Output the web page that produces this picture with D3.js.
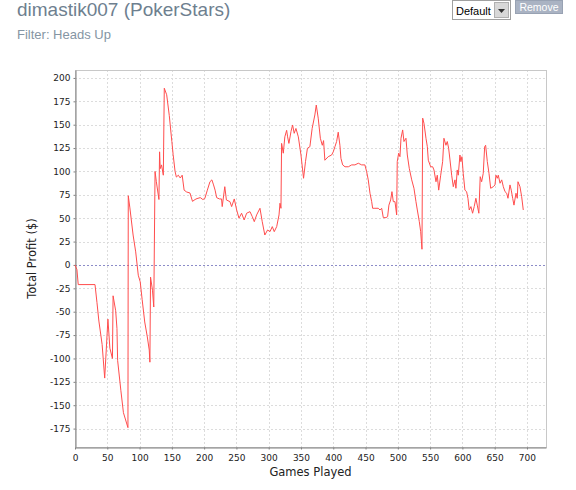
<!DOCTYPE html>
<html>
<head>
<meta charset="utf-8">
<script src="https://cdn.jsdelivr.net/npm/d3@7"></script>
<style>
  body { margin: 0; background: #fff; }
  svg { display: block; }
</style>
</head>
<body>
<svg id="chart"></svg>
<script>
// games played / cumulative profit
var games = [0, 3, 5, 31, 34, 37, 42, 46, 51, 54, 58, 59, 63, 65, 66, 71, 75, 82, 82.5, 85,
  90, 94, 98, 101, 104, 108, 112, 115, 116, 117, 120, 122, 124, 126, 130, 131, 132, 134, 136.8, 138.3,
  142, 146, 150, 152, 155, 157, 160, 163, 166, 169, 173, 178, 182, 186, 189, 194, 198, 201, 205, 209,
  212, 214.6, 217, 219.4, 223.7, 227, 228, 232, 234.5, 240, 242.6, 246.7, 250.4, 254, 258, 262, 265.8, 271, 274.6, 277.7,
  281.3, 286.5, 290, 294, 298.3, 302, 305.6, 308.6, 312.4, 316, 317.5, 319, 320, 322.6, 325, 327.8, 329.3, 331.3, 334.5, 337,
  339.5, 342.2, 345.9, 350, 354, 357, 360, 363.8, 367.3, 371.5, 373.7, 376.7, 380, 383, 385, 387, 392.2, 397.5, 400, 402.6,
  405.2, 407.7, 410.3, 411.9, 414.6, 418.2, 423.4, 428.5, 433.6, 438.8, 444, 449, 451.7, 454.2, 456.9, 459.5, 461, 464.5, 469.7, 472.4,
  475, 477.5, 481.6, 484.2, 486.2, 488.9, 490.9, 493, 495.6, 498.2, 499.1, 501.3, 503.3, 504.9, 507.5, 509.5, 512.6, 514.7, 517.7, 521.5,
  525, 528.1, 530.2, 533.3, 535.4, 537.4, 538.5, 540.5, 543.6, 545.7, 547.2, 550.9, 554, 556, 559.1, 561.1, 563.3, 566.4, 569.4, 571.4,
  574.5, 576.6, 578.7, 580.8, 583.4, 585.9, 588.5, 590, 592, 593.6, 596.2, 597.7, 599.3, 601.3, 603.9, 606.5, 608.6, 610.6, 613.2, 615.8,
  618.3, 620.9, 623, 625.5, 627.6, 629.8, 632.3, 634.5, 636, 638.6, 641.2, 643.8, 647.9, 650.5, 652, 654.1, 655.6, 658.3, 660.9, 663.4,
  666, 668.6, 670.6, 673.7, 675.7, 677.9, 679.9, 683, 685, 686.1, 689.2, 691.8, 694.3];
var profit = [0, -5, -21, -21, -40, -60, -85, -121, -58, -89, -100, -33, -49, -68, -102, -134, -158, -174, 74, 61,
  32, 14, -11, -18, -37, -61, -77, -91, -104, -13, -27, -45, 100, 89, 70, 121, 103, 107, 96, 189,
  182, 160, 132, 118, 100, 94, 96, 93, 96, 80, 78, 77, 68, 70, 71, 72, 70, 71, 80, 89,
  91, 85.6, 80, 72, 70.6, 70.6, 62.4, 83.7, 69.5, 67.7, 62.4, 70.6, 58.8, 50, 55.3, 48.1, 55.3, 57, 51.7, 46.3,
  53.5, 60.6, 46.3, 32, 37.4, 35.6, 41, 35.6, 41, 53.5, 66, 60.6, 130, 119.5, 137, 144, 137, 130, 142.6, 149.7,
  140.8, 146, 137, 117.6, 92.7, 110.5, 124.8, 126.5, 146, 160.4, 171, 157, 135.5, 128, 133, 112, 115.8, 117.6, 121, 126.5,
  132, 142, 128, 114, 107, 105, 105, 107, 107, 108.8, 107, 107, 99.8, 91, 76.7, 67.7, 60.6, 60.6, 60.6, 58.8,
  60.6, 50.6, 50.6, 51.7, 64, 69.5, 78.4, 67.7, 67.7, 53.5, 110.5, 119.5, 115.8, 135.5, 144.4, 132, 135.5, 117.6, 103.4, 91,
  82, 67.7, 58.8, 46.3, 35.6, 16.8, 157, 151.5, 135.5, 126.5, 112, 105, 105, 101.6, 89, 96, 80, 96, 110.5, 135.5,
  128, 132, 124.8, 112.3, 96, 83.7, 91, 82, 101.6, 96, 117.6, 110.5, 115.8, 98, 80, 78.4, 71.3, 58.8, 62.4, 55.3,
  62.4, 71.3, 64, 55.3, 94.4, 89, 98, 126.5, 128, 110.5, 98, 82, 83.7, 85.6, 96, 92.7, 96, 87.4, 91, 83.7,
  78.4, 76.7, 71.3, 85.6, 80, 71.3, 64, 76.7, 71.3, 89, 83.7, 73, 58.8];

var xTicks = d3.range(0, 701, 50);
var yTicks = d3.range(-175, 201, 25);

var title = "dimastik007 (PokerStars)";
var subtitle = "Filter: Heads Up";
var xLabel = "Games Played";
var yLabel = "Total Profit ($)";

var W = 576, H = 490;
var plot = { left: 75, right: 546, top: 70, bottom: 447 };

var svg = d3.select("#chart").attr("width", W).attr("height", H);
svg.append("rect").attr("width", W).attr("height", H).attr("fill", "#fff");

// header
svg.append("text").attr("x", 17).attr("y", 15.5)
  .attr("font-family", "Liberation Sans, Arial, sans-serif").attr("font-size", 19)
  .attr("fill", "#6e7f8f").text(title);
svg.append("text").attr("x", 17).attr("y", 39)
  .attr("font-family", "Liberation Sans, Arial, sans-serif").attr("font-size", 13)
  .attr("fill", "#8595a3").text(subtitle);

// dropdown + button
var dd = svg.append("g");
dd.append("rect").attr("x", 452.5).attr("y", 0.5).attr("width", 58).attr("height", 19)
  .attr("fill", "#fff").attr("stroke", "#a0a0a0");
dd.append("text").attr("x", 456).attr("y", 14.5)
  .attr("font-family", "Liberation Sans, Arial, sans-serif").attr("font-size", 11)
  .attr("fill", "#000").text("Default");
dd.append("rect").attr("x", 494.5).attr("y", 2.5).attr("width", 14).attr("height", 15)
  .attr("fill", "#d8d8d8").attr("stroke", "#b0b0b0");
dd.append("path").attr("d", "M498,9 L505,9 L501.5,13 Z").attr("fill", "#333");

var btn = svg.append("g");
btn.append("rect").attr("x", 515.5).attr("y", 0.5).attr("width", 47).attr("height", 13)
  .attr("fill", "#aab3c3").attr("stroke", "#98a2b3");
btn.append("text").attr("x", 539).attr("y", 10.5).attr("text-anchor", "middle")
  .attr("font-family", "Liberation Sans, Arial, sans-serif").attr("font-size", 10.5)
  .attr("fill", "#fff").text("Remove");

var x = d3.scaleLinear().domain([0, 729.5]).range([plot.left, plot.right]);
var y = d3.scaleLinear().domain([-194.7, 208.5]).range([plot.bottom, plot.top]);

// grid
var grid = svg.append("g").attr("stroke", "#dcdcdc").attr("stroke-dasharray", "2,2");
grid.selectAll(".gx").data(xTicks.filter(function (d) { return d > 0; })).enter().append("line")
  .attr("x1", function (d) { return Math.round(x(d)) + 0.5; })
  .attr("x2", function (d) { return Math.round(x(d)) + 0.5; })
  .attr("y1", plot.top).attr("y2", plot.bottom);
grid.selectAll(".gy").data(yTicks.filter(function (d) { return d !== 0; })).enter().append("line")
  .attr("y1", function (d) { return Math.round(y(d)) + 0.5; })
  .attr("y2", function (d) { return Math.round(y(d)) + 0.5; })
  .attr("x1", plot.left).attr("x2", plot.right);

// zero marker line
svg.append("line")
  .attr("x1", plot.left).attr("x2", plot.right)
  .attr("y1", Math.round(y(0)) + 0.5).attr("y2", Math.round(y(0)) + 0.5)
  .attr("stroke", "#8c8cc8").attr("stroke-dasharray", "2,2");

// frame
svg.append("rect").attr("x", plot.left + 0.5).attr("y", plot.top + 0.5)
  .attr("width", plot.right - plot.left).attr("height", plot.bottom - plot.top)
  .attr("fill", "none").attr("stroke", "#c8c8c8");

// axes
var tickFont = "DejaVu Sans, Verdana, sans-serif";
var xAxis = svg.append("g").attr("transform", "translate(0," + (plot.bottom + 0.5) + ")")
  .call(d3.axisBottom(x).tickValues(xTicks).tickSizeInner(2).tickSizeOuter(0).tickPadding(5));
var yAxis = svg.append("g").attr("transform", "translate(" + (plot.left + 0.5) + ",0)")
  .call(d3.axisLeft(y).tickValues(yTicks).tickSizeInner(2).tickSizeOuter(0).tickPadding(3)
    .tickFormat(function (d) { return String(d); }));
[xAxis, yAxis].forEach(function (a) {
  a.select(".domain").attr("stroke", "#808080");
  a.selectAll(".tick line").attr("stroke", "#808080");
  a.selectAll(".tick text").attr("font-family", tickFont).attr("font-size", 9).attr("fill", "#222");
});

svg.append("text").attr("x", (plot.left + plot.right) / 2).attr("y", 476)
  .attr("text-anchor", "middle").attr("font-family", tickFont).attr("font-size", 11.5)
  .attr("fill", "#222").text(xLabel);
svg.append("text").attr("transform", "translate(36," + ((plot.top + plot.bottom) / 2) + ") rotate(-90)")
  .attr("text-anchor", "middle").attr("font-family", tickFont).attr("font-size", 11.5)
  .attr("fill", "#222").text(yLabel);

// profit line
var line = d3.line()
  .x(function (d, i) { return x(games[i]); })
  .y(function (d) { return y(d); });

svg.append("path")
  .datum(profit)
  .attr("fill", "none")
  .attr("stroke", "#ff4d4d")
  .attr("stroke-width", 1)
  .attr("stroke-linejoin", "round")
  .attr("d", line);
</script>
</body>
</html>
